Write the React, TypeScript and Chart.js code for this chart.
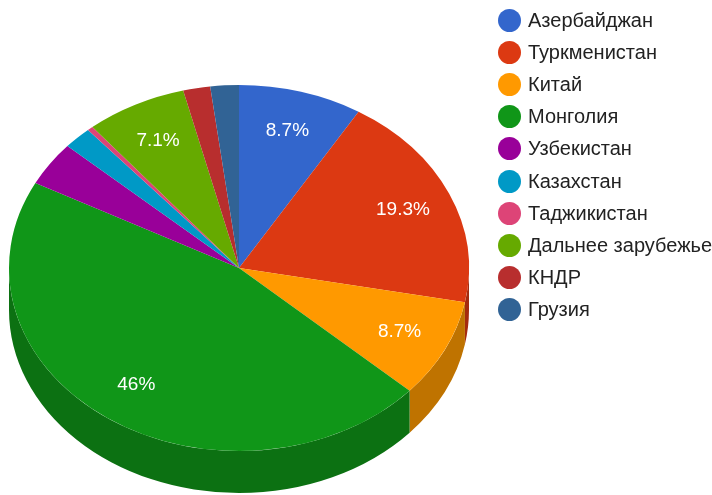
import React, { useEffect, useRef } from "react";
import { Chart, registerables } from "chart.js";

Chart.register(...registerables);

const labels = [
  "Азербайджан",
  "Туркменистан",
  "Китай",
  "Монголия",
  "Узбекистан",
  "Казахстан",
  "Таджикистан",
  "Дальнее зарубежье",
  "КНДР",
  "Грузия",
];
const values = [8.7, 19.3, 8.7, 46, 3.9, 2.0, 0.4, 7.1, 1.9, 2.0];
const colors = [
  "#3366cc",
  "#dc3912",
  "#ff9900",
  "#109618",
  "#990099",
  "#0099c6",
  "#dd4477",
  "#66aa00",
  "#b82e2e",
  "#316395",
];

const TILT = 183 / 230; // vertical squash of the pie
const DEPTH = 42; // thickness of the 3D side
const LABEL_MIN_PCT = 5;
const FONT = 'Arial, "Liberation Sans", sans-serif';

function darken(hex: string, f: number) {
  const n = parseInt(hex.slice(1), 16);
  const r = Math.round(((n >> 16) & 255) * f);
  const g = Math.round(((n >> 8) & 255) * f);
  const b = Math.round((n & 255) * f);
  return `rgb(${r},${g},${b})`;
}

const pie3d = {
  id: "pie3d",
  beforeDatasetsDraw(chart: any) {
    const ctx = chart.ctx;
    const meta = chart.getDatasetMeta(0);
    ctx.save();
    // side walls (front half only)
    meta.data.forEach((arc: any, i: number) => {
      const { x, y, startAngle, endAngle, outerRadius } = arc.getProps(
        ["x", "y", "startAngle", "endAngle", "outerRadius"],
        true
      );
      const a = Math.max(startAngle, 0);
      const b = Math.min(endAngle, Math.PI);
      if (a >= b) return;
      const rx = outerRadius;
      const ry = outerRadius * TILT;
      ctx.beginPath();
      ctx.ellipse(x, y, rx, ry, 0, a, b, false);
      ctx.ellipse(x, y + DEPTH, rx, ry, 0, b, a, true);
      ctx.closePath();
      ctx.fillStyle = darken(colors[i], 0.75);
      ctx.fill();
    });
    const first = meta.data[0];
    if (first) {
      const cy = first.y;
      ctx.translate(0, cy);
      ctx.scale(1, TILT);
      ctx.translate(0, -cy);
    }
  },
  afterDatasetsDraw(chart: any) {
    const ctx = chart.ctx;
    ctx.restore();
    const meta = chart.getDatasetMeta(0);
    const total = values.reduce((s, v) => s + v, 0);
    ctx.save();
    ctx.fillStyle = "#ffffff";
    ctx.font = `19px ${FONT}`;
    ctx.textAlign = "center";
    ctx.textBaseline = "middle";
    meta.data.forEach((arc: any, i: number) => {
      const pct = (values[i] / total) * 100;
      if (pct < LABEL_MIN_PCT) return;
      const { x, y, startAngle, endAngle, outerRadius } = arc.getProps(
        ["x", "y", "startAngle", "endAngle", "outerRadius"],
        true
      );
      const mid = (startAngle + endAngle) / 2;
      const f = 0.78;
      const px = x + f * outerRadius * Math.cos(mid);
      const py = y + f * outerRadius * TILT * Math.sin(mid);
      const txt = (Math.round(pct * 10) / 10).toString() + "%";
      ctx.fillText(txt, px, py);
    });
    ctx.restore();
  },
};

export default function App() {
  const ref = useRef<HTMLCanvasElement | null>(null);

  useEffect(() => {
    if (!ref.current) return;
    const chart = new Chart(ref.current, {
      type: "pie",
      data: {
        labels,
        datasets: [
          {
            data: values,
            backgroundColor: colors,
            borderWidth: 0,
            hoverOffset: 0,
            clip: false as any,
          },
        ],
      },
      options: {
        responsive: false,
        maintainAspectRatio: false,
        animation: false,
        events: [],
        layout: { padding: { left: 9, right: 243, top: 38, bottom: 42 } },
        plugins: {
          legend: { display: false },
          tooltip: { enabled: false },
          title: { display: false },
        },
      },
      plugins: [pie3d],
    });
    return () => chart.destroy();
  }, []);

  return (
    <div
      style={{
        position: "absolute",
        left: 0,
        top: 0,
        width: 712,
        height: 495,
        overflow: "hidden",
        background: "#ffffff",
      }}
    >
      <canvas
        ref={ref}
        width={712}
        height={540}
        style={{ position: "absolute", left: 0, top: 0, width: 712, height: 540 }}
      />
      <div style={{ position: "absolute", left: 498, top: 4 }}>
        {labels.map((l, i) => (
          <div
            key={l}
            style={{
              height: 32.2,
              display: "flex",
              alignItems: "center",
              fontFamily: FONT,
              fontSize: 20,
              color: "#222222",
              whiteSpace: "nowrap",
            }}
          >
            <span
              style={{
                display: "inline-block",
                width: 23,
                height: 23,
                borderRadius: "50%",
                background: colors[i],
                marginRight: 7,
                flex: "none",
              }}
            />
            <span>{l}</span>
          </div>
        ))}
      </div>
    </div>
  );
}
